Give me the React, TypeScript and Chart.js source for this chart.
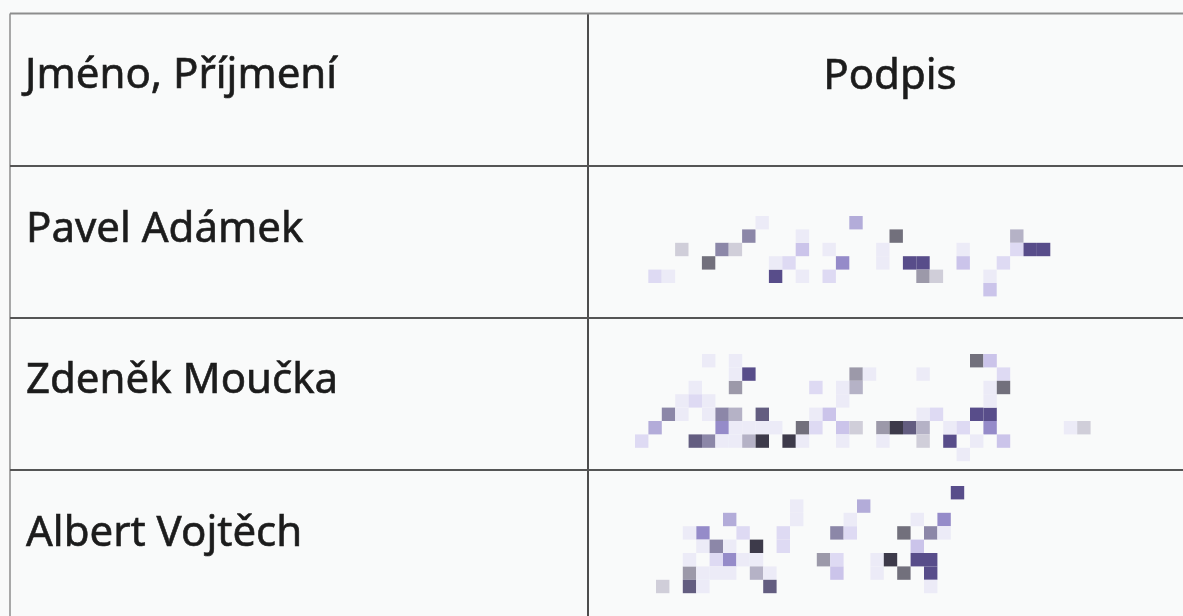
import React, { useEffect, useRef } from "react";
import { Chart, registerables } from "chart.js";

Chart.register(...registerables);

// ---------- data ----------
const headerLabels = ["Jméno, Příjmení", "Podpis"];
const personNames = ["Pavel Adámek", "Zdeněk Moučka", "Albert Vojtěch"];

// signature pixel cells: [column, row, shade]
const signature1: [number, number, string][] = [
  [0, 4, "VL"], [1, 4, "F"], [2, 2, "LG"], [4, 3, "DG"], [5, 2, "GP"], [6, 2, "LG"],
  [7, 1, "GP"], [8, 0, "F"], [9, 4, "DP"], [9, 3, "F"], [10, 3, "VL"], [11, 2, "LL"],
  [11, 1, "F"], [11, 4, "F"], [13, 4, "VL"], [13, 2, "F"], [14, 3, "MP"], [15, 0, "ML"],
  [17, 2, "F"], [17, 3, "F"], [18, 1, "DG"], [19, 3, "DP"], [20, 3, "DP"], [20, 4, "G"],
  [21, 4, "LG"], [23, 2, "F"], [23, 3, "LL"], [25, 4, "F"], [25, 5, "LL"], [26, 3, "VL"],
  [27, 1, "LGP"], [27, 2, "VL"], [28, 2, "DP"], [29, 2, "DP"],
];

const signature2: [number, number, string][] = [
  [0, 6, "VL"], [1, 5, "ML"], [2, 4, "GP"], [3, 3, "F"], [4, 3, "VL"], [4, 2, "F"],
  [3, 4, "F"], [5, 3, "F"], [5, 4, "F"], [5, 0, "F"], [6, 4, "GP"], [6, 5, "MP"],
  [7, 4, "LGP"], [7, 5, "F"], [7, 2, "G"], [7, 0, "F"], [7, 1, "F"], [8, 1, "DP"],
  [8, 5, "F"], [9, 4, "DGP"], [9, 5, "F"], [10, 5, "F"], [4, 6, "DGP"], [5, 6, "GP"],
  [6, 6, "F"], [7, 6, "F"], [8, 6, "LGP"], [9, 6, "VD"], [11, 6, "VD"], [12, 6, "F"],
  [12, 5, "DG"], [13, 5, "VL"], [13, 4, "F"], [13, 2, "VL"], [14, 4, "LL"], [15, 2, "F"],
  [15, 3, "F"], [15, 5, "LL"], [15, 6, "F"], [16, 1, "G"], [16, 2, "LGP"], [16, 5, "LG"],
  [17, 1, "F"], [18, 5, "G"], [18, 6, "F"], [19, 5, "VD"], [20, 5, "DGP"], [21, 5, "LGP"],
  [21, 6, "LG"], [21, 4, "F"], [21, 1, "F"], [22, 4, "VL"], [23, 6, "DP"], [23, 5, "F"],
  [24, 5, "VL"], [24, 7, "F"], [25, 0, "DG"], [25, 4, "DP"], [26, 4, "DP"], [26, 0, "LL"],
  [26, 5, "MP"], [25, 6, "F"], [26, 2, "F"], [26, 3, "F"], [27, 1, "VL"], [27, 2, "DG"],
  [27, 6, "LL"], [32, 5, "F"], [33, 5, "LG"],
];

const signature3: [number, number, string][] = [
  [0, 7, "LG"], [2, 6, "G"], [2, 7, "DGP"], [2, 5, "F"], [3, 3, "MP"], [2, 3, "F"],
  [3, 4, "F"], [3, 6, "F"], [3, 7, "F"], [4, 4, "GP"], [4, 5, "VL"], [4, 6, "F"],
  [5, 2, "ML"], [5, 4, "F"], [5, 5, "MP"], [5, 6, "F"], [6, 3, "VL"], [6, 5, "F"],
  [7, 4, "VD"], [7, 5, "F"], [7, 6, "LGP"], [8, 6, "F"], [8, 7, "DGP"], [9, 3, "VL"],
  [9, 4, "VL"], [10, 1, "F"], [10, 2, "F"], [12, 5, "G"], [13, 5, "VL"], [13, 6, "LL"],
  [13, 3, "GP"], [14, 3, "VL"], [14, 2, "F"], [15, 1, "ML"], [16, 5, "F"], [16, 6, "F"],
  [17, 5, "VD"], [18, 6, "DG"], [18, 3, "DG"], [19, 2, "F"], [19, 4, "LL"], [19, 5, "DP"],
  [20, 3, "GP"], [20, 5, "DP"], [20, 6, "DP"], [20, 7, "F"], [21, 2, "MP"], [21, 3, "F"],
  [22, 0, "DP"],
];

// ---------- layout & styles ----------
const W = 1183;
const H = 616;
const CELL = 13.4;
const SIG_ORIGINS: [number, number][] = [[648.3, 216], [635, 354], [656, 486]];
const SHADES: Record<string, string> = {
  F: "#ecebf7",
  VL: "#dedaf3",
  LL: "#cbc4ea",
  ML: "#b3acd9",
  MP: "#958bc9",
  DP: "#584d8a",
  VD: "#3d3a4a",
  LG: "#d0ced9",
  LGP: "#b5b2c6",
  G: "#9c99a9",
  GP: "#8c87a8",
  DGP: "#635d80",
  DG: "#72707c",
};
const LEFT = 10;
const TOP = 13.5;
const DIVIDER = 588;
const ROW_LINES = [166, 318, 470];
const HEADER_BASE = 88;
const NAME_BASES = [242, 393, 546];
const TEXT_X = 26;
const PODPIS_CX = 890;
const FONT = '42px "Noto Sans", "Open Sans", sans-serif';

export default function App() {
  const ref = useRef<HTMLCanvasElement | null>(null);

  useEffect(() => {
    if (!ref.current) return;
    const lineSet = (pts: { x: number; y: number }[], color: string, width: number) => ({
      type: "line" as const,
      data: pts,
      borderColor: color,
      borderWidth: width,
      pointRadius: 0,
      showLine: true,
      fill: false,
      order: 2,
    });
    const lineDatasets = [
      lineSet([{ x: LEFT, y: TOP }, { x: W, y: TOP }], "#8d8d8d", 2),
      ...ROW_LINES.map((y) => lineSet([{ x: LEFT, y }, { x: W, y }], "#555555", 2)),
      lineSet([{ x: LEFT, y: TOP }, { x: LEFT, y: H }], "#8d8d8d", 1.5),
      lineSet([{ x: DIVIDER, y: TOP }, { x: DIVIDER, y: H }], "#4d4d4d", 2),
    ];
    const sigs = [signature1, signature2, signature3];
    const sigDatasets = sigs.map((cells, i) => ({
      type: "scatter" as const,
      data: cells.map(([c, r]) => ({
        x: SIG_ORIGINS[i][0] + (c + 0.5) * CELL,
        y: SIG_ORIGINS[i][1] + (r + 0.5) * CELL,
      })),
      pointStyle: "rect" as const,
      pointRadius: CELL / 2 / Math.SQRT1_2,
      pointBorderWidth: 0,
      borderWidth: 0,
      pointBackgroundColor: cells.map(([, , s]) => SHADES[s]),
      order: 1,
    }));

    const textPlugin = {
      id: "tableText",
      afterDatasetsDraw(chart: any) {
        const { ctx, scales } = chart;
        const px = (v: number) => scales.x.getPixelForValue(v);
        const py = (v: number) => scales.y.getPixelForValue(v);
        ctx.save();
        ctx.font = FONT;
        ctx.fillStyle = "#1c1c1c";
        ctx.strokeStyle = "#1c1c1c";
        ctx.lineWidth = 0.6;
        ctx.textBaseline = "alphabetic";
        const put = (t: string, x: number, y: number, align: string) => {
          ctx.textAlign = align;
          ctx.fillText(t, px(x), py(y));
          ctx.strokeText(t, px(x), py(y));
        };
        put(headerLabels[0], TEXT_X - 1, HEADER_BASE, "left");
        put(headerLabels[1], PODPIS_CX, HEADER_BASE + 1, "center");
        personNames.forEach((n, i) => put(n, TEXT_X, NAME_BASES[i], "left"));
        ctx.restore();
      },
    };

    const chart = new Chart(ref.current, {
      type: "scatter",
      data: { datasets: [...lineDatasets, ...sigDatasets] as any },
      options: {
        animation: false,
        responsive: false,
        maintainAspectRatio: false,
        layout: { padding: 0, autoPadding: false },
        events: [],
        plugins: { legend: { display: false }, tooltip: { enabled: false } },
        scales: {
          x: { type: "linear", min: 0, max: W, display: false },
          y: { type: "linear", min: 0, max: H, reverse: true, display: false },
        },
      },
      plugins: [textPlugin],
    });
    return () => chart.destroy();
  }, []);

  return (
    <div
      style={{
        position: "absolute",
        left: 0,
        top: 0,
        width: W,
        height: H,
        background: "#f9fafa",
      }}
    >
      <canvas ref={ref} width={W} height={H} style={{ display: "block" }} />
    </div>
  );
}
